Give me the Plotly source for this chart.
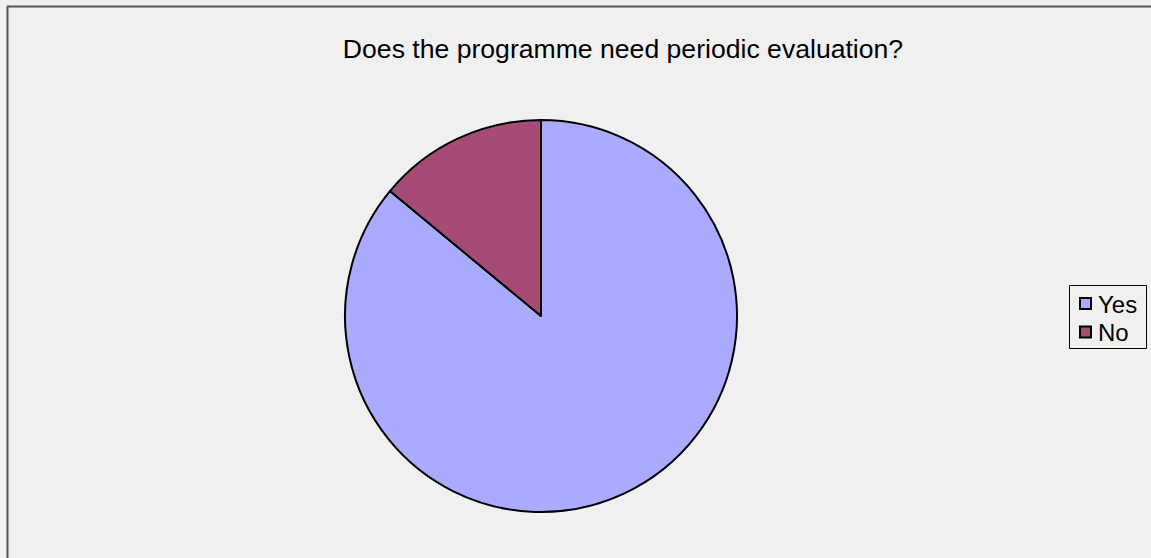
import plotly.graph_objects as go

labels = ["Yes", "No"]
values = [86, 14]
colors = ["#aaaaff", "#a64b75"]

W, H = 1151, 558
cx, cy, r = 541, 316, 196


def px(x):
    return x / W


def py(y):
    return 1 - y / H


fig = go.Figure(go.Pie(
    labels=labels,
    values=values,
    sort=False,
    direction="clockwise",
    rotation=0,
    textinfo="none",
    hoverinfo="label+percent",
    showlegend=False,
    marker=dict(colors=colors, line=dict(color="#000000", width=2)),
    domain=dict(x=[px(cx - r), px(cx + r)], y=[py(cy + r), py(cy - r)]),
))

shapes = [
    # outer chart frame (top and left edges visible)
    dict(type="line", xref="paper", yref="paper",
         x0=px(7), x1=1.0, y0=py(6.5), y1=py(6.5),
         line=dict(color="#555555", width=2)),
    dict(type="line", xref="paper", yref="paper",
         x0=px(7.5), x1=px(7.5), y0=0, y1=py(6.5),
         line=dict(color="#555555", width=2)),
    # legend box
    dict(type="rect", xref="paper", yref="paper",
         x0=px(1069.5), x1=px(1146.5), y0=py(348.5), y1=py(285.5),
         line=dict(color="#000000", width=1), fillcolor="rgba(0,0,0,0)"),
]
annotations = []

row_y = [303.5, 332]
for lab, col, yc in zip(labels, colors, row_y):
    shapes.append(dict(
        type="rect", xref="paper", yref="paper",
        x0=px(1080), x1=px(1091), y0=py(yc + 5.5), y1=py(yc - 5.5),
        line=dict(color="#000000", width=2), fillcolor=col,
    ))
    annotations.append(dict(
        text=lab, xref="paper", yref="paper",
        x=px(1096), y=py(yc + 0.5), xanchor="left", yanchor="middle",
        showarrow=False, font=dict(size=24, color="#000000"),
    ))

fig.update_layout(
    width=W, height=H,
    margin=dict(l=0, r=0, t=0, b=0),
    paper_bgcolor="#f0f0f0",
    plot_bgcolor="#f0f0f0",
    font=dict(family="Liberation Sans, Arial, sans-serif", color="#000000"),
    title=dict(
        text="Does the programme need periodic evaluation?",
        x=px(623), xanchor="center",
        y=py(49), yanchor="middle",
        font=dict(size=26.6, color="#000000"),
    ),
    shapes=shapes,
    annotations=annotations,
)

fig.write_html("out.html")
